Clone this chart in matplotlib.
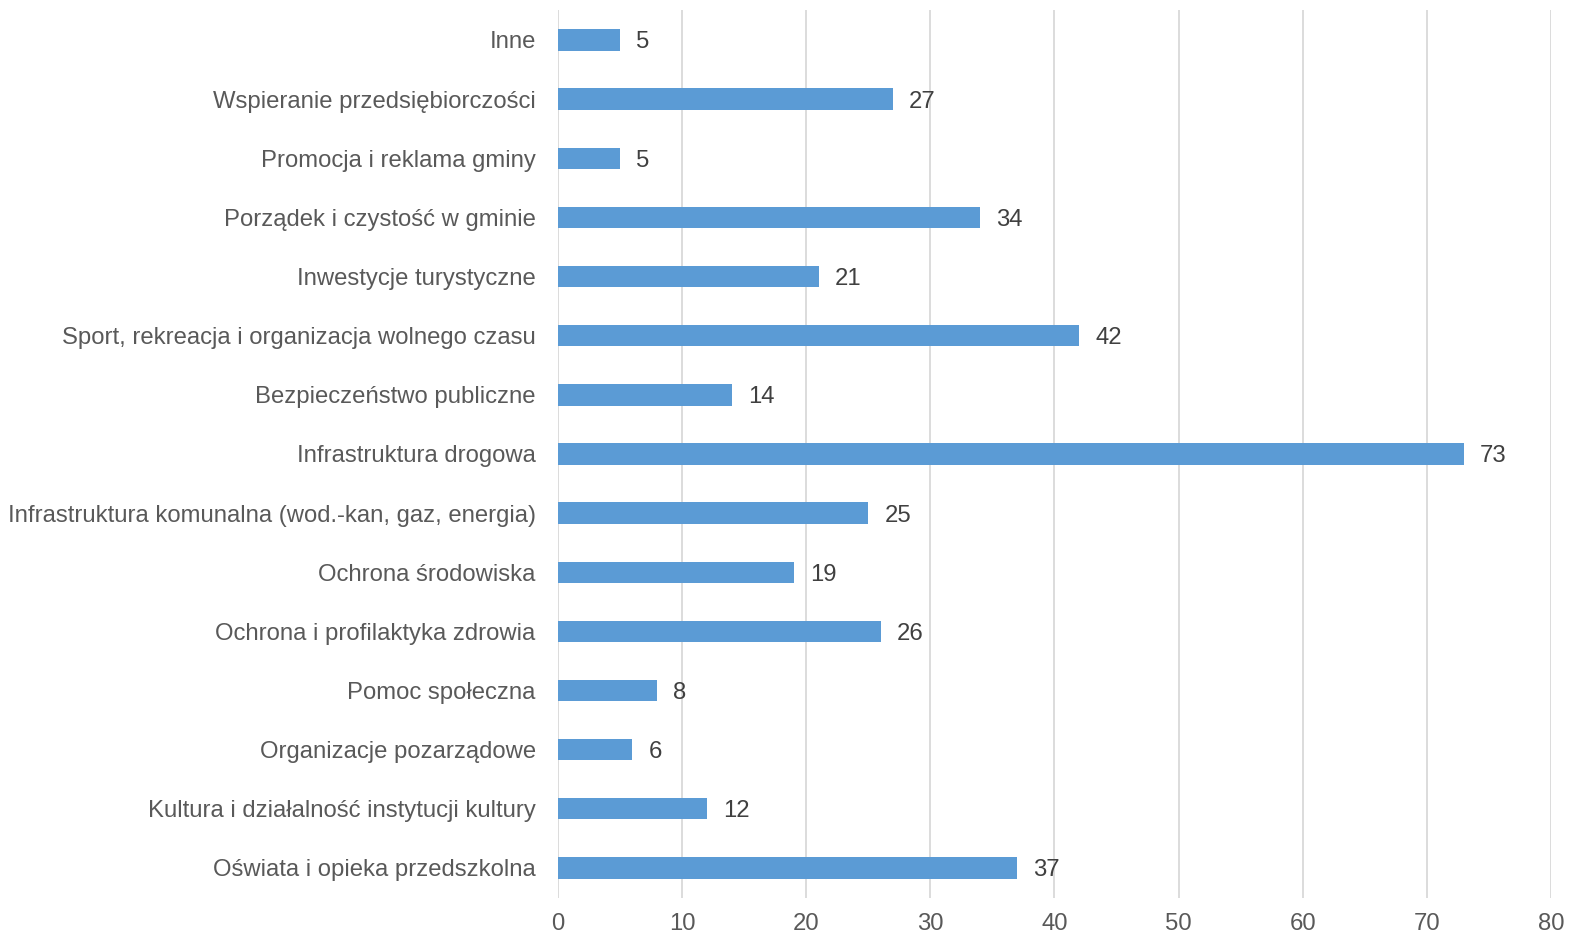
import matplotlib
matplotlib.use("Agg")
import matplotlib.pyplot as plt

# categories listed bottom to top
categories = [
    "Oświata i opieka przedszkolna",
    "Kultura i działalność instytucji kultury",
    "Organizacje pozarządowe",
    "Pomoc społeczna",
    "Ochrona i profilaktyka zdrowia",
    "Ochrona środowiska",
    "Infrastruktura komunalna (wod.-kan, gaz, energia)",
    "Infrastruktura drogowa",
    "Bezpieczeństwo publiczne",
    "Sport, rekreacja i organizacja wolnego czasu",
    "Inwestycje turystyczne",
    "Porządek i czystość w gminie",
    "Promocja i reklama gminy",
    "Wspieranie przedsiębiorczości",
    "Inne",
]
values = [37, 12, 6, 8, 26, 19, 25, 73, 14, 42, 21, 34, 5, 27, 5]
x_ticks = [0, 10, 20, 30, 40, 50, 60, 70, 80]

bar_color = "#5B9BD5"
grid_color = "#D9D9D9"
label_color = "#595959"
value_color = "#404040"

plt.rcParams["font.family"] = ["Liberation Sans", "DejaVu Sans"]

fig = plt.figure(figsize=(15.85, 9.48), dpi=100)
ax = fig.add_axes([0.352, 0.0532, 0.6265, 0.9358])

y = list(range(len(categories)))
ax.barh(y, values, height=0.36, color=bar_color, zorder=3)

#value labels right of each bar
for yi, v in zip(y, values):
    ax.text(v + 1.3, yi, str(v), va="center_baseline", ha="left", fontsize=17.2, color=value_color)

ax.set_xlim(0, 80)
ax.set_ylim(-0.5, len(categories) - 0.5)
ax.set_xticks(x_ticks)
ax.set_yticks(y)
ax.set_yticklabels(categories)
ax.xaxis.grid(True, color=grid_color, linewidth=1.3, zorder=0)
ax.tick_params(axis="x", length=0, labelsize=17.2, labelcolor=label_color, pad=11)
ax.tick_params(axis="y", length=0, labelsize=17.2, labelcolor=label_color, pad=16)
for s in ax.spines.values():
    s.set_visible(False)

fig.savefig("out.png", dpi=100)
